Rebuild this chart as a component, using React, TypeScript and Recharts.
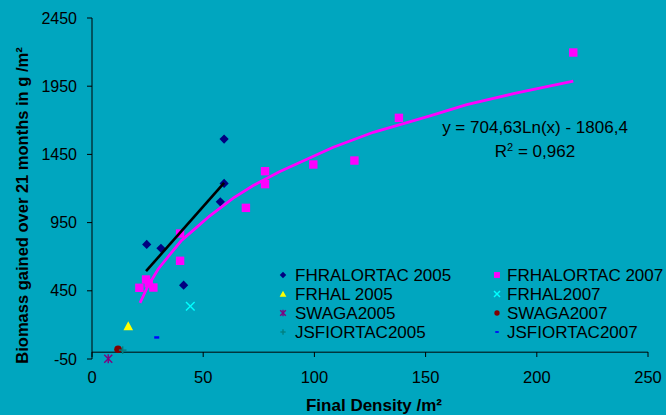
import { ScatterChart, Scatter, XAxis, YAxis, ReferenceLine, Legend } from 'recharts';

const xTicks = [0, 50, 100, 150, 200, 250];
const yTicks = [-50, 450, 950, 1450, 1950, 2450];

// FHRALORTAC 2005
const fhralortac2005 = [
  { x: 24.6, y: 790 },
  { x: 31.0, y: 762 },
  { x: 41.2, y: 491 },
  { x: 57.7, y: 1102 },
  { x: 59.4, y: 1237 },
  { x: 59.4, y: 1562 },
];

// FRHALORTAC 2007
const frhalortac2007 = [
  { x: 21.3, y: 472 },
  { x: 24.3, y: 533 },
  { x: 25.5, y: 505 },
  { x: 27.6, y: 474 },
  { x: 39.6, y: 670 },
  { x: 39.6, y: 870 },
  { x: 69.2, y: 1058 },
  { x: 77.8, y: 1232 },
  { x: 77.8, y: 1327 },
  { x: 99.5, y: 1376 },
  { x: 118, y: 1405 },
  { x: 138, y: 1718 },
  { x: 216.4, y: 2197 },
];

const frhal2005 = [{ x: 16.3, y: 191 }];
const frhal2007 = [{ x: 44.2, y: 337 }];
const swaga2005 = [{ x: 7.3, y: -49 }];
const swaga2007 = [{ x: 11.7, y: 21 }];
const jsfiortac2005 = [{ x: 13.8, y: 15 }];
const jsfiortac2007 = [{ x: 29.1, y: 108 }];

// linear trend of the 2005 diamonds
const trend2005 = [
  { x: 24.3, y: 594 },
  { x: 59.4, y: 1241 },
];

// log trend of the 2007 squares
const trend2007 = [
  { x: 21.6, y: 362 },
  { x: 25, y: 480 },
  { x: 29.8, y: 610 },
  { x: 35, y: 715 },
  { x: 40, y: 815 },
  { x: 45.6, y: 895 },
  { x: 53, y: 1000 },
  { x: 63.5, y: 1130 },
  { x: 72.5, y: 1222 },
  { x: 84.5, y: 1325 },
  { x: 108.5, y: 1502 },
  { x: 126.5, y: 1612 },
  { x: 152, y: 1732 },
  { x: 168.5, y: 1815 },
  { x: 190, y: 1897 },
  { x: 216.4, y: 1987 },
];

type Kind = 'diamond' | 'square' | 'triangle' | 'x' | 'star' | 'circle' | 'plus' | 'dash';

const series: { name: string; data: { x: number; y: number }[]; color: string; kind: Kind }[] = [
  { name: 'FHRALORTAC 2005', data: fhralortac2005, color: '#000080', kind: 'diamond' },
  { name: 'FRHALORTAC 2007', data: frhalortac2007, color: '#FF00FF', kind: 'square' },
  { name: 'FRHAL 2005', data: frhal2005, color: '#FFFF00', kind: 'triangle' },
  { name: 'FRHAL2007', data: frhal2007, color: '#00FFFF', kind: 'x' },
  { name: 'SWAGA2005', data: swaga2005, color: '#800080', kind: 'star' },
  { name: 'SWAGA2007', data: swaga2007, color: '#800000', kind: 'circle' },
  { name: 'JSFIORTAC2005', data: jsfiortac2005, color: '#008080', kind: 'plus' },
  { name: 'JSFIORTAC2007', data: jsfiortac2007, color: '#0000FF', kind: 'dash' },
];

function Marker({ kind, cx, cy, color, s = 1 }: { kind: Kind; cx: number; cy: number; color: string; s?: number }) {
  if (kind === 'diamond') {
    const r = 4.6 * s;
    return <polygon points={`${cx},${cy - r} ${cx + r},${cy} ${cx},${cy + r} ${cx - r},${cy}`} fill={color} />;
  }
  if (kind === 'square') {
    const h = 4.2 * s;
    return <rect x={cx - h} y={cy - h} width={2 * h} height={2 * h} fill={color} />;
  }
  if (kind === 'triangle') {
    const r = 4.8 * s;
    return <polygon points={`${cx},${cy - r} ${cx + r},${cy + r * 0.85} ${cx - r},${cy + r * 0.85}`} fill={color} />;
  }
  if (kind === 'x') {
    const r = 4.3 * s;
    return (
      <g stroke={color} strokeWidth={1.4}>
        <line x1={cx - r} y1={cy - r} x2={cx + r} y2={cy + r} />
        <line x1={cx - r} y1={cy + r} x2={cx + r} y2={cy - r} />
      </g>
    );
  }
  if (kind === 'star') {
    const r = 4 * s;
    return (
      <g stroke={color} strokeWidth={1.4}>
        <line x1={cx - r} y1={cy - r} x2={cx + r} y2={cy + r} />
        <line x1={cx - r} y1={cy + r} x2={cx + r} y2={cy - r} />
        <line x1={cx} y1={cy - r - 0.5} x2={cx} y2={cy + r + 0.5} />
      </g>
    );
  }
  if (kind === 'circle') {
    return <circle cx={cx} cy={cy} r={3.8 * s} fill={color} />;
  }
  if (kind === 'plus') {
    const r = 3.8 * s;
    return (
      <g stroke={color} strokeWidth={1.4}>
        <line x1={cx - r} y1={cy} x2={cx + r} y2={cy} />
        <line x1={cx} y1={cy - r} x2={cx} y2={cy + r} />
      </g>
    );
  }
  // dash
  return <rect x={cx - 2.5 * s} y={cy - 1.2 * s} width={5 * s} height={2.4 * s} fill={color} />;
}

function XTick(props: any) {
  const { x, y, payload } = props;
  return (
    <g>
      <line x1={x} x2={x} y1={y - 7} y2={y - 2} stroke="#000" />
      <text x={x} y={y + 24} textAnchor="middle" fontSize={16.5} fill="#000">
        {payload.value}
      </text>
    </g>
  );
}

function LegendBox() {
  const left = series.filter((_, i) => i % 2 === 0);
  const right = series.filter((_, i) => i % 2 === 1);
  const rowY = [13, 32, 51, 70];
  return (
    <svg width={396} height={82} style={{ overflow: 'visible' }}>
      {[left, right].map((col, c) =>
        col.map((s, r) => (
          <g key={s.name}>
            <Marker kind={s.kind} cx={c === 0 ? 13 : 227} cy={rowY[r]} color={s.color} s={0.7} />
            <text x={c === 0 ? 25 : 237} y={rowY[r]} dy="0.35em" fontSize={17} fill="#000">
              {s.name}
            </text>
          </g>
        ))
      )}
    </svg>
  );
}

export default function App() {
  return (
    <div
      style={{
        position: 'fixed',
        left: 0,
        top: 0,
        width: 666,
        height: 415,
        background: '#00A6BF',
        fontFamily: '"Liberation Sans", Arial, sans-serif',
      }}
    >
      <ScatterChart width={666} height={415} margin={{ top: 18, right: 18, left: 0, bottom: 0 }}>
        <XAxis
          type="number"
          dataKey="x"
          domain={[0, 250]}
          ticks={xTicks}
          height={56}
          axisLine={false}
          tickLine={false}
          tickSize={0}
          tickMargin={0}
          tick={<XTick />}
          label={{
            content: ({ viewBox }: any) => (
              <text
                x={viewBox.x + viewBox.width / 2 + 4}
                y={411}
                textAnchor="middle"
                fontSize={17}
                fontWeight="bold"
                fill="#000"
              >
                Final Density /m²
              </text>
            ),
          }}
        />
        <YAxis
          type="number"
          dataKey="y"
          domain={[-50, 2450]}
          ticks={yTicks}
          width={92}
          axisLine={{ stroke: '#000' }}
          tickLine={{ stroke: '#000' }}
          tickSize={5}
          tickMargin={10}
          tick={{ fill: '#000', fontSize: 16 }}
          label={{
            content: ({ viewBox }: any) => {
              const cx = 22;
              const cy = viewBox.y + viewBox.height / 2 + 17;
              return (
                <text
                  x={cx}
                  y={cy}
                  transform={`rotate(-90 ${cx} ${cy})`}
                  textAnchor="middle"
                  dominantBaseline="central"
                  fontSize={16.5}
                  fontWeight="bold"
                  fill="#000"
                >
                  Biomass gained over 21 months in g /m²
                </text>
              );
            },
          }}
        />
        <ReferenceLine y={0} stroke="#000" strokeWidth={1} />
        <Legend
          layout="vertical"
          verticalAlign="middle"
          align="center"
          wrapperStyle={{ position: 'absolute', left: 270, top: 262, width: 396, height: 82 }}
          content={() => <LegendBox />}
        />
        {series.map((s) => (
          <Scatter
            key={s.name}
            name={s.name}
            data={s.data}
            isAnimationActive={false}
            shape={(p: any) => <Marker kind={s.kind} cx={p.cx} cy={p.cy} color={s.color} />}
          />
        ))}
        <Scatter
          name="trend2005"
          data={trend2005}
          isAnimationActive={false}
          line={{ stroke: '#000', strokeWidth: 2.6 }}
          lineType="joint"
          shape={() => <g />}
        />
        <Scatter
          name="trend2007"
          data={trend2007}
          isAnimationActive={false}
          line={{ stroke: '#FF00FF', strokeWidth: 2.8 }}
          lineType="joint"
          shape={() => <g />}
        />
      </ScatterChart>
      <div
        style={{
          position: 'absolute',
          left: 425,
          top: 116,
          width: 220,
          textAlign: 'center',
          fontSize: 17,
          lineHeight: '24px',
          color: '#000',
        }}
      >
        <div>y = 704,63Ln(x) - 1806,4</div>
        <div>
          R<sup style={{ fontSize: 11, verticalAlign: 'top', lineHeight: '14px' }}>2</sup> = 0,962
        </div>
      </div>
    </div>
  );
}
